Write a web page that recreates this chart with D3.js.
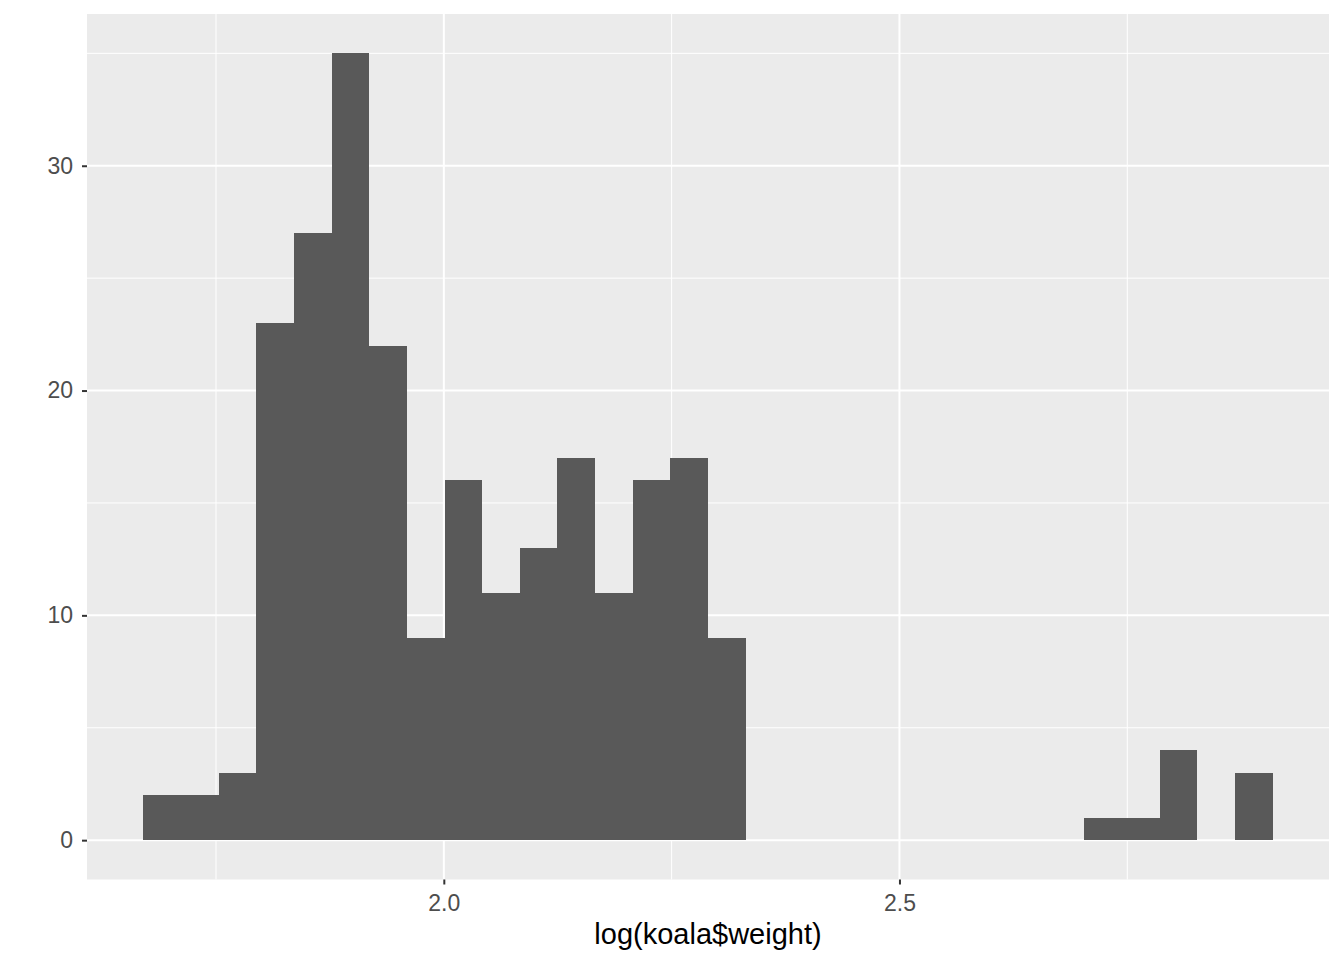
<!DOCTYPE html>
<html>
<head>
<meta charset="utf-8">
<script src="https://cdn.jsdelivr.net/npm/d3@7"></script>
<style>
html,body{margin:0;padding:0;background:#fff;}
svg{display:block;}
</style>
</head>
<body>
<svg id="chart" width="1344" height="960"></svg>
<script>
// Histogram of log(koala$weight): 30 bins
const binStart = 1.6704;
const binWidth = 0.04130;
const counts = [2, 2, 3, 23, 27, 35, 22, 9, 16, 11, 13, 17, 11, 16, 17, 9,
                0, 0, 0, 0, 0, 0, 0, 0, 0, 1, 1, 4, 0, 3];
const xTickValues = [2.0, 2.5];
const xTickLabels = ["2.0", "2.5"];
const xMinorValues = [1.75, 2.25, 2.75];
const yTickValues = [0, 10, 20, 30];
const yMinorValues = [5, 15, 25, 35];
const xTitle = "log(koala$weight)";

const bins = counts.map((c, i) => ({x0: binStart + i * binWidth, x1: binStart + (i + 1) * binWidth, count: c}));

const svg = d3.select("#chart");
const panel = {left: 87, top: 14, right: 1329, bottom: 879.5};
const FONT = "'Liberation Sans', Arial, sans-serif";

const xMin = binStart, xMax = binStart + counts.length * binWidth;
const xPad = (xMax - xMin) * 0.05;
const yMax = d3.max(counts);
const yPad = yMax * 0.05;

const x = d3.scaleLinear().domain([xMin - xPad, xMax + xPad]).range([panel.left, panel.right]);
const y = d3.scaleLinear().domain([-yPad, yMax + yPad]).range([panel.bottom, panel.top]);

svg.append("rect")
  .attr("x", panel.left).attr("y", panel.top)
  .attr("width", panel.right - panel.left).attr("height", panel.bottom - panel.top)
  .attr("fill", "#EBEBEB");

const grid = svg.append("g");
grid.selectAll(".xminor").data(xMinorValues).enter().append("line")
  .attr("x1", d => x(d)).attr("x2", d => x(d))
  .attr("y1", panel.top).attr("y2", panel.bottom)
  .attr("stroke", "#fff").attr("stroke-width", 1);
grid.selectAll(".yminor").data(yMinorValues).enter().append("line")
  .attr("y1", d => y(d)).attr("y2", d => y(d))
  .attr("x1", panel.left).attr("x2", panel.right)
  .attr("stroke", "#fff").attr("stroke-width", 1);
grid.selectAll(".xmajor").data(xTickValues).enter().append("line")
  .attr("x1", d => x(d)).attr("x2", d => x(d))
  .attr("y1", panel.top).attr("y2", panel.bottom)
  .attr("stroke", "#fff").attr("stroke-width", 2);
grid.selectAll(".ymajor").data(yTickValues).enter().append("line")
  .attr("y1", d => y(d)).attr("y2", d => y(d))
  .attr("x1", panel.left).attr("x2", panel.right)
  .attr("stroke", "#fff").attr("stroke-width", 2);

svg.append("g").selectAll("rect").data(bins.filter(b => b.count > 0)).enter().append("rect")
  .attr("x", d => x(d.x0))
  .attr("width", d => x(d.x1) - x(d.x0))
  .attr("y", d => y(d.count))
  .attr("height", d => y(0) - y(d.count))
  .attr("fill", "#595959")
  .attr("shape-rendering", "crispEdges");

const xAxis = d3.axisBottom(x).tickValues(xTickValues).tickFormat((d, i) => xTickLabels[i]).tickSize(5).tickPadding(10);
const yAxis = d3.axisLeft(y).tickValues(yTickValues).tickFormat(d3.format("d")).tickSize(5).tickPadding(9);

const gx = svg.append("g").attr("transform", `translate(0,${panel.bottom})`).call(xAxis);
const gy = svg.append("g").attr("transform", `translate(${panel.left},0)`).call(yAxis);
[gx, gy].forEach(g => {
  g.attr("font-size", null).attr("font-family", null);
  g.select(".domain").remove();
  g.selectAll(".tick line").attr("stroke", "#333333").attr("stroke-width", 2);
  g.selectAll(".tick text").attr("fill", "#4D4D4D")
    .style("font-family", FONT).style("font-size", "23px");
});

svg.append("text")
  .attr("x", (panel.left + panel.right) / 2).attr("y", 944)
  .attr("text-anchor", "middle")
  .style("font-family", FONT).style("font-size", "29px")
  .attr("fill", "#000")
  .text(xTitle);
</script>
</body>
</html>
